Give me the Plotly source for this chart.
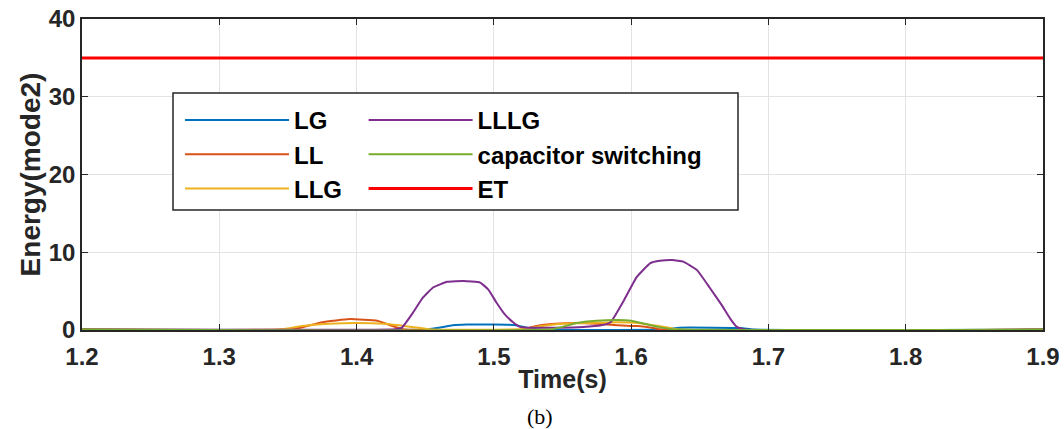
import plotly.graph_objects as go

# ---- data ----
lg_t = [1.20, 1.450, 1.460, 1.470, 1.480, 1.500, 1.515, 1.525, 1.532, 1.625, 1.635, 1.660, 1.680, 1.690, 1.90]
lg_e = [0.05, 0.05, 0.30, 0.60, 0.70, 0.70, 0.65, 0.25, 0.05, 0.05, 0.30, 0.30, 0.25, 0.05, 0.05]

ll_t = [1.20, 1.345, 1.359, 1.375, 1.395, 1.415, 1.428, 1.436, 1.520, 1.530, 1.545, 1.560, 1.575, 1.590, 1.605, 1.615, 1.622, 1.90]
ll_e = [0.05, 0.05, 0.30, 1.00, 1.40, 1.20, 0.40, 0.05, 0.05, 0.50, 0.80, 0.90, 0.80, 0.60, 0.50, 0.30, 0.05, 0.05]

llg_t = [1.20, 1.345, 1.360, 1.380, 1.400, 1.420, 1.440, 1.455, 1.520, 1.535, 1.550, 1.570, 1.590, 1.605, 1.620, 1.635, 1.90]
llg_e = [0.05, 0.05, 0.50, 0.80, 0.90, 0.80, 0.40, 0.05, 0.10, 0.50, 0.80, 0.90, 1.00, 0.90, 0.50, 0.05, 0.05]

lllg_t = [1.20, 1.428, 1.433, 1.441, 1.448, 1.456, 1.466, 1.478, 1.490, 1.496, 1.502, 1.508, 1.514, 1.519, 1.525,
          1.545, 1.565, 1.578, 1.585, 1.595, 1.604, 1.614, 1.621, 1.630, 1.638, 1.648, 1.657, 1.666, 1.672, 1.677, 1.683, 1.90]
lllg_e = [0.05, 0.10, 0.30, 2.20, 4.10, 5.50, 6.20, 6.30, 6.10, 5.20, 3.50, 2.00, 1.00, 0.40, 0.30,
          0.30, 0.40, 0.60, 1.00, 3.90, 6.80, 8.60, 8.90, 9.00, 8.80, 7.70, 5.50, 3.20, 1.50, 0.40, 0.05, 0.05]

cap_t = [1.20, 1.540, 1.550, 1.560, 1.575, 1.590, 1.600, 1.610, 1.620, 1.630, 1.90]
cap_e = [0.05, 0.05, 0.40, 0.90, 1.20, 1.30, 1.20, 0.80, 0.40, 0.10, 0.05]

et_t = [1.20, 1.90]
et_e = [35, 35]

x_ticks = [1.2, 1.3, 1.4, 1.5, 1.6, 1.7, 1.8, 1.9]
x_labels = ["1.2", "1.3", "1.4", "1.5", "1.6", "1.7", "1.8", "1.9"]
y_ticks = [0, 10, 20, 30, 40]
y_labels = ["0", "10", "20", "30", "40"]

FONT = "Liberation Sans, Arial, sans-serif"

series = [
    ("LG", lg_t, lg_e, "#0072BD", 2, "legend"),
    ("LL", ll_t, ll_e, "#D95319", 2, "legend"),
    ("LLG", llg_t, llg_e, "#EDB120", 2, "legend"),
    ("LLLG", lllg_t, lllg_e, "#7E2F8E", 2, "legend2"),
    ("capacitor switching", cap_t, cap_e, "#77AC30", 2, "legend2"),
    ("ET", et_t, et_e, "#FF0000", 3, "legend2"),
]

fig = go.Figure()
for name, t, e, col, w, lg in series:
    fig.add_trace(go.Scatter(
        x=t, y=e, mode="lines", name=name,
        line=dict(color=col, width=w, shape="spline", smoothing=0.35),
        legend=lg, legendgroup=name,
    ))

leg_common = dict(
    bgcolor="rgba(0,0,0,0)", borderwidth=0,
    font=dict(family=FONT, size=24, color="black", weight="bold"),
    itemwidth=104, tracegroupgap=0,
    xanchor="left", yanchor="top", orientation="v",
)

fig.update_layout(
    width=1064, height=429,
    margin=dict(l=82, r=21, t=19, b=99, autoexpand=False),
    paper_bgcolor="white", plot_bgcolor="white",
    font=dict(family=FONT, size=24, color="#222222", weight="bold"),
    showlegend=True,
    legend=dict(x=0.102, y=0.746, **leg_common),
    legend2=dict(x=0.293, y=0.746, **leg_common),
    xaxis=dict(
        range=[1.2, 1.9], tickvals=x_ticks, ticktext=x_labels,
        showgrid=True, gridcolor="#E3E3E3", gridwidth=1,
        showline=True, linecolor="#262626", linewidth=1.5, mirror="ticks",
        ticks="inside", ticklen=6, tickcolor="#262626",
        zeroline=False, automargin=False, ticklabelstandoff=4,
        tickfont=dict(family=FONT, size=24, color="#262626", weight="bold"),
        title=dict(text="Time(s)", standoff=2,
                   font=dict(family=FONT, size=25, color="#262626", weight="bold")),
    ),
    yaxis=dict(
        range=[0, 40], tickvals=y_ticks, ticktext=y_labels,
        showgrid=True, gridcolor="#E3E3E3", gridwidth=1,
        showline=True, linecolor="#262626", linewidth=1.5, mirror="ticks",
        ticks="inside", ticklen=6, tickcolor="#262626",
        zeroline=False, automargin=False,
        tickfont=dict(family=FONT, size=24, color="#262626", weight="bold"),
        title=dict(text="Energy(mode2)", standoff=0,
                   font=dict(family=FONT, size=28, color="#262626", weight="bold")),
    ),
    shapes=[dict(
        type="rect", xref="paper", yref="paper",
        x0=(173 - 82) / 961, x1=(738 - 82) / 961,
        y0=(330 - 210) / 311, y1=(330 - 93) / 311,
        line=dict(color="#262626", width=1.5), fillcolor="white", layer="above",
    )],
    annotations=[dict(
        text="(b)", xref="paper", yref="paper", x=(540 - 82) / 961, y=-0.232,
        xanchor="center", yanchor="top", showarrow=False,
        font=dict(family="Liberation Serif, Times New Roman, serif", size=22,
                  color="black", weight="normal"),
    )],
)

fig.write_html("out.html")
